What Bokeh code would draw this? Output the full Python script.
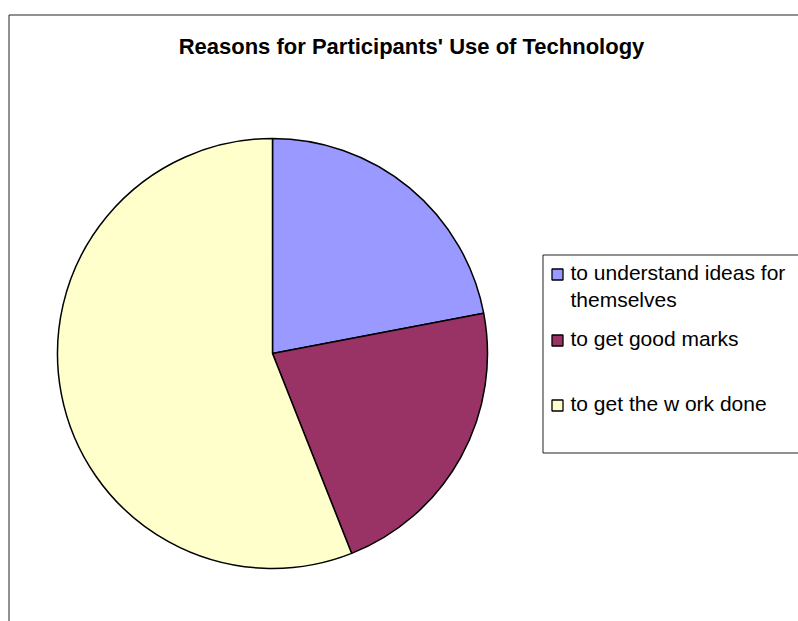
import math
from bokeh.plotting import figure
from bokeh.models import Range1d, BoxAnnotation, ColumnDataSource
from bokeh.core.properties import value
from bokeh.embed import file_html
from bokeh.resources import INLINE

# ---- data ----
title_text = "Reasons for Participants' Use of Technology"
categories = ["to understand ideas for\nthemselves", "to get good marks", "to get the w ork done"]
percentages = [22, 22, 56]
colors = ["#9999FF", "#993366", "#FFFFCC"]

W, H = 798, 621
FONT = "Liberation Sans"

def Y(py):
    return H - py

p = figure(width=W, height=H, output_backend="svg", toolbar_location=None,
           x_range=Range1d(0, W), y_range=Range1d(0, H), min_border=0)
p.axis.visible = False
p.grid.visible = False
p.outline_line_color = None
p.background_fill_color = "white"
p.border_fill_color = "white"

# chart-area frame (extends beyond window)
p.add_layout(BoxAnnotation(left=8.5, right=W + 40, top=Y(14.5), bottom=-40,
                           fill_alpha=0, line_color="#222222", line_alpha=1, line_width=1))

# pie
cx, cy, r = 272, Y(353), 215
total = sum(percentages)
starts, ends = [], []
acc = 0.0
for v in percentages:
    a0 = math.pi / 2 - 2 * math.pi * acc / total
    acc += v
    a1 = math.pi / 2 - 2 * math.pi * acc / total
    starts.append(a0)
    ends.append(a1)
src = ColumnDataSource(dict(start=starts, end=ends, color=colors, x=[cx] * 3, y=[cy] * 3))
p.wedge(x="x", y="y", radius=r, radius_units="screen", start_angle="start", end_angle="end",
        direction="clock", fill_color="color", line_color="black", line_width=1.5, source=src)

# title
p.text(x=[411], y=[Y(46)], text=[title_text], text_font=value(FONT), text_font_size="22px",
       text_font_style="bold", text_align="center", text_baseline="middle", text_color="black")

# legend box
p.add_layout(BoxAnnotation(left=542.5, right=W + 40, top=Y(254.5), bottom=Y(452.5),
                           fill_alpha=0, line_color="#222222", line_alpha=1, line_width=1))
item_y = [Y(274), Y(340), Y(405)]
p.rect(x=[557] * 3, y=item_y, width=11, height=11, width_units="screen", height_units="screen",
       fill_color=colors, line_color="black", line_width=1.3)
p.text(x=[570] * 3, y=[yy + 14 for yy in item_y], text=categories, text_font=value(FONT),
       text_font_size="21px", text_align="left", text_baseline="top", text_color="black",
       text_line_height=1.2)

open("out.html", "w").write(file_html(p, INLINE))
